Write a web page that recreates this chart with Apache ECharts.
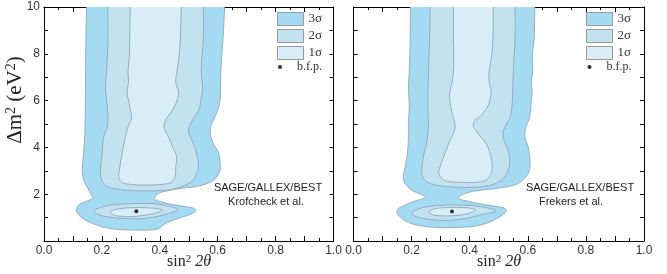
<!DOCTYPE html>
<html>
<head>
<meta charset="utf-8">
<script src="https://cdn.jsdelivr.net/npm/echarts@6/dist/echarts.min.js"></script>
<style>
html,body{margin:0;padding:0;background:#fff;}
#chart{width:667px;height:274px;}
</style>
</head>
<body>
<div id="chart"></div>
<script>
// ---------- data (sin^2 2theta, Delta m^2 [eV^2]) ----------
const xTicks = [0, 0.2, 0.4, 0.6, 0.8, 1.0];
const yTicks = [2, 4, 6, 8, 10];
const legendNames = ['3σ', '2σ', '1σ'];
const bfpName = 'b.f.p.';
const panelLabels = [['SAGE/GALLEX/BEST', 'Krofcheck et al.'], ['SAGE/GALLEX/BEST', 'Frekers et al.']];

// Left panel (Krofcheck et al.)
const k3 = [[0.147,10.4],[0.147,10],[0.145,8.87],[0.144,7.45],[0.143,6.03],[0.141,4.60],[0.137,3.76],[0.132,3.03],[0.137,2.61],[0.149,2.31],[0.160,2.05],[0.168,1.84],[0.143,1.68],[0.120,1.54],[0.112,1.30],[0.126,1.04],[0.166,0.76],[0.224,0.54],[0.304,0.47],[0.380,0.48],[0.400,0.56],[0.418,0.74],[0.453,0.92],[0.499,1.11],[0.524,1.27],[0.517,1.40],[0.453,1.54],[0.408,1.66],[0.382,1.80],[0.388,1.97],[0.410,2.10],[0.470,2.24],[0.545,2.38],[0.586,2.60],[0.605,2.91],[0.609,3.16],[0.603,3.76],[0.584,4.19],[0.574,4.62],[0.580,5.04],[0.597,5.47],[0.608,6.03],[0.610,6.88],[0.613,7.74],[0.618,8.59],[0.624,10],[0.624,10.4]];
const k2 = [[0.220,10.4],[0.220,10],[0.221,8.68],[0.216,7.22],[0.212,6.54],[0.218,5.81],[0.220,4.96],[0.206,4.44],[0.201,3.76],[0.195,3.03],[0.199,2.61],[0.222,2.31],[0.280,2.18],[0.340,2.14],[0.420,2.17],[0.470,2.30],[0.505,2.50],[0.525,2.80],[0.533,3.16],[0.530,3.60],[0.515,4.19],[0.500,4.62],[0.502,4.90],[0.515,5.20],[0.535,5.60],[0.542,6.03],[0.548,6.54],[0.543,7.22],[0.546,7.95],[0.551,8.68],[0.551,10],[0.551,10.4]];
const k2lobe = [[0.172,1.28],[0.200,1.45],[0.250,1.56],[0.310,1.60],[0.370,1.60],[0.420,1.52],[0.465,1.33],[0.430,1.18],[0.380,1.02],[0.330,0.95],[0.260,0.98],[0.200,1.08]];
const k1 = [[0.298,10.4],[0.298,10],[0.296,8.68],[0.295,7.95],[0.290,7.22],[0.292,6.79],[0.287,6.37],[0.295,5.81],[0.302,5.26],[0.290,4.87],[0.281,4.44],[0.270,3.76],[0.262,3.16],[0.258,2.75],[0.270,2.50],[0.300,2.42],[0.340,2.39],[0.400,2.41],[0.438,2.50],[0.453,2.78],[0.455,3.16],[0.458,3.59],[0.445,4.00],[0.430,4.44],[0.415,4.87],[0.420,5.17],[0.436,5.45],[0.453,5.81],[0.462,6.10],[0.465,6.37],[0.455,6.79],[0.459,7.22],[0.465,7.70],[0.471,8.68],[0.474,10],[0.474,10.4]];
const k1lobe = [[0.228,1.22],[0.250,1.36],[0.300,1.42],[0.360,1.42],[0.410,1.32],[0.370,1.15],[0.310,1.05],[0.250,1.08]];
const kBfp = [[0.319,1.27]];

// Right panel (Frekers et al.)
const f3 = [[0.196,10.4],[0.196,10],[0.195,8.66],[0.192,7.24],[0.189,6.53],[0.192,5.81],[0.189,4.96],[0.188,4.03],[0.178,3.18],[0.173,2.89],[0.172,2.61],[0.178,2.45],[0.200,2.18],[0.235,1.98],[0.250,1.87],[0.206,1.68],[0.166,1.47],[0.149,1.30],[0.155,1.10],[0.180,0.85],[0.218,0.68],[0.298,0.57],[0.401,0.61],[0.458,0.76],[0.504,1.04],[0.527,1.30],[0.516,1.42],[0.458,1.54],[0.401,1.68],[0.361,1.82],[0.372,1.97],[0.410,2.12],[0.500,2.26],[0.560,2.42],[0.590,2.70],[0.605,3.00],[0.607,3.50],[0.601,4.03],[0.590,4.46],[0.594,4.89],[0.607,5.31],[0.612,6.03],[0.615,6.38],[0.612,6.81],[0.617,7.24],[0.615,7.95],[0.622,8.66],[0.624,10],[0.624,10.4]];
const f2 = [[0.264,10.4],[0.264,10],[0.262,8.66],[0.258,7.24],[0.256,5.81],[0.258,4.96],[0.252,4.20],[0.243,3.76],[0.235,3.03],[0.240,2.68],[0.265,2.45],[0.320,2.33],[0.390,2.29],[0.464,2.36],[0.510,2.61],[0.533,3.03],[0.538,3.50],[0.530,3.95],[0.515,4.40],[0.516,4.70],[0.526,5.00],[0.538,5.24],[0.546,5.81],[0.550,7.24],[0.556,8.66],[0.556,10],[0.556,10.4]];
const f2lobe = [[0.200,1.18],[0.230,1.40],[0.290,1.52],[0.360,1.54],[0.430,1.48],[0.490,1.29],[0.440,1.12],[0.380,0.95],[0.320,0.88],[0.260,0.93],[0.215,1.05]];
const f1 = [[0.344,10.4],[0.344,10],[0.344,8.66],[0.345,7.95],[0.344,7.24],[0.340,6.81],[0.332,6.38],[0.332,5.95],[0.338,5.53],[0.350,4.96],[0.344,4.60],[0.332,4.30],[0.315,3.75],[0.298,3.18],[0.294,2.85],[0.310,2.62],[0.338,2.53],[0.400,2.50],[0.453,2.58],[0.473,2.85],[0.478,3.18],[0.470,3.75],[0.455,4.20],[0.435,4.50],[0.413,4.90],[0.418,5.15],[0.441,5.38],[0.464,5.81],[0.474,6.38],[0.467,6.81],[0.467,7.24],[0.476,7.95],[0.480,8.66],[0.481,10],[0.481,10.4]];
const f1lobe = [[0.258,1.24],[0.280,1.38],[0.330,1.43],[0.390,1.42],[0.420,1.32],[0.390,1.16],[0.340,1.08],[0.280,1.10]];
const fBfp = [[0.339,1.26]];

// ---------- styles ----------
const C3 = '#a5dbf2', C2 = '#c3e2f0', C1 = '#d9edf6', EDGE = '#8ea6bc';
const SANS = '"Liberation Sans", Arial, Helvetica, sans-serif';
const SERIF = '"Liberation Serif", "Times New Roman", serif';

const chart = echarts.init(document.getElementById('chart'), null, {renderer: 'canvas'});

function poly(name, pts, color, idx) {
  return {
    type: 'custom', name: name, xAxisIndex: idx, yAxisIndex: idx,
    clip: true, silent: true, data: pts, encode: {x: 0, y: 1},
    itemStyle: {color: color, borderColor: EDGE, borderWidth: 1},
    renderItem: function (params, api) {
      if (params.context.done) return;
      params.context.done = true;
      const points = pts.map(function (p) { return api.coord(p); });
      return {type: 'polygon', shape: {points: points, smooth: 0.35},
              style: {fill: color, stroke: EDGE, lineWidth: 0.9}};
    }
  };
}
function bfp(pts, idx) {
  return {type: 'scatter', name: bfpName, xAxisIndex: idx, yAxisIndex: idx, data: pts,
          symbol: 'circle', symbolSize: 4, itemStyle: {color: '#000'}, silent: true};
}

const tickFmtX = function (v) { const r = Math.round(v * 10); return r % 2 === 0 ? (r / 10).toFixed(1) : ''; };
const tickFmtY = function (v) { return yTicks.indexOf(v) >= 0 ? String(v) : ''; };

function xAx(grid, pos, labels) {
  return {type: 'value', gridIndex: grid, position: pos, min: 0, max: 1, interval: 0.1,
    axisLine: {show: true, onZero: false, lineStyle: {color: '#000', width: 1}},
    axisTick: {show: true, inside: true, length: 5, lineStyle: {color: '#000', width: 1}},
    minorTick: {show: true, splitNumber: 2, length: 3, lineStyle: {color: '#000', width: 1}},
    splitLine: {show: false}, minorSplitLine: {show: false},
    axisLabel: {show: labels, formatter: tickFmtX, margin: 4, fontFamily: SANS, fontSize: 12, color: '#333'}
  };
}
function yAx(grid, pos, labels) {
  return {type: 'value', gridIndex: grid, position: pos, min: 0, max: 10, interval: 1,
    axisLine: {show: true, onZero: false, lineStyle: {color: '#000', width: 1}},
    axisTick: {show: true, inside: true, length: 4, lineStyle: {color: '#000', width: 1}},
    splitLine: {show: false},
    axisLabel: {show: labels, formatter: tickFmtY, margin: 4, fontFamily: SANS, fontSize: 12, color: '#333'}
  };
}

const legendCommon = {orient: 'vertical', itemWidth: 26, itemHeight: 13, itemGap: 3, icon: 'rect',
  padding: 0, selectedMode: false, data: legendNames,
  itemStyle: {borderColor: '#999', borderWidth: 1},
  textStyle: {fontFamily: SERIF, fontSize: 13, color: '#333'}};
const legendBfp = {orient: 'vertical', itemWidth: 24, itemHeight: 4, icon: 'circle',
  padding: 0, selectedMode: false, data: [bfpName],
  textStyle: {fontFamily: SERIF, fontSize: 12, color: '#333'}};

function annot(xs, lines) {
  return lines.map(function (t, i) {
    return {type: 'text', x: xs[i], y: 188 + i * 14, silent: true,
      style: {text: t, align: 'center', verticalAlign: 'middle', font: '11px ' + SANS, fill: '#222'}};
  });
}
function xName(cx) {
  return {type: 'text', x: cx, y: 262, silent: true,
    style: {text: '{n|sin}{s|2}{n| }{i|2θ}', align: 'center', verticalAlign: 'middle',
      rich: {
        n: {fontFamily: SERIF, fontSize: 16, lineHeight: 17, fill: '#222'},
        s: {fontFamily: SERIF, fontSize: 11, lineHeight: 11, verticalAlign: 'top', fill: '#222'},
        i: {fontFamily: SERIF, fontSize: 16, lineHeight: 17, fontStyle: 'italic', fill: '#222'}
      }}};
}

const option = {
  animation: false,
  backgroundColor: '#fff',
  grid: [
    {left: 44, top: 7, width: 289.5, height: 234, outerBoundsMode: 'none', containLabel: false},
    {left: 353.5, top: 7, width: 290.5, height: 234, outerBoundsMode: 'none', containLabel: false}
  ],
  xAxis: [xAx(0, 'bottom', true), xAx(0, 'top', false), xAx(1, 'bottom', true), xAx(1, 'top', false)],
  yAxis: [yAx(0, 'left', true), yAx(0, 'right', false), yAx(1, 'left', false), yAx(1, 'right', false)],
  legend: [
    Object.assign({}, legendCommon, {left: 277, top: 12}),
    Object.assign({}, legendBfp, {left: 278, top: 61}),
    Object.assign({}, legendCommon, {left: 586, top: 12}),
    Object.assign({}, legendBfp, {left: 587.5, top: 61})
  ],
  graphic: [
    {type: 'text', x: 15, y: 100, rotation: Math.PI / 2, silent: true,
     style: {text: '{b|Δm}{s|2}{b| (eV}{s|2}{b|)}', align: 'center', verticalAlign: 'middle',
       rich: {
         b: {fontFamily: SERIF, fontSize: 21, lineHeight: 22, fill: '#222'},
         s: {fontFamily: SERIF, fontSize: 14, lineHeight: 14, verticalAlign: 'top', fill: '#222'}
       }}},
    xName(189), xName(499)
  ].concat(annot([268, 266], panelLabels[0])).concat(annot([580, 571], panelLabels[1])),
  series: [
    poly('3σ', k3, C3, 0), poly('2σ', k2, C2, 0), poly('2σ', k2lobe, C2, 0),
    poly('1σ', k1, C1, 0), poly('1σ', k1lobe, C1, 0), bfp(kBfp, 0),
    poly('3σ', f3, C3, 2), poly('2σ', f2, C2, 2), poly('2σ', f2lobe, C2, 2),
    poly('1σ', f1, C1, 2), poly('1σ', f1lobe, C1, 2), bfp(fBfp, 2)
  ]
};
chart.setOption(option);
</script>
</body>
</html>
